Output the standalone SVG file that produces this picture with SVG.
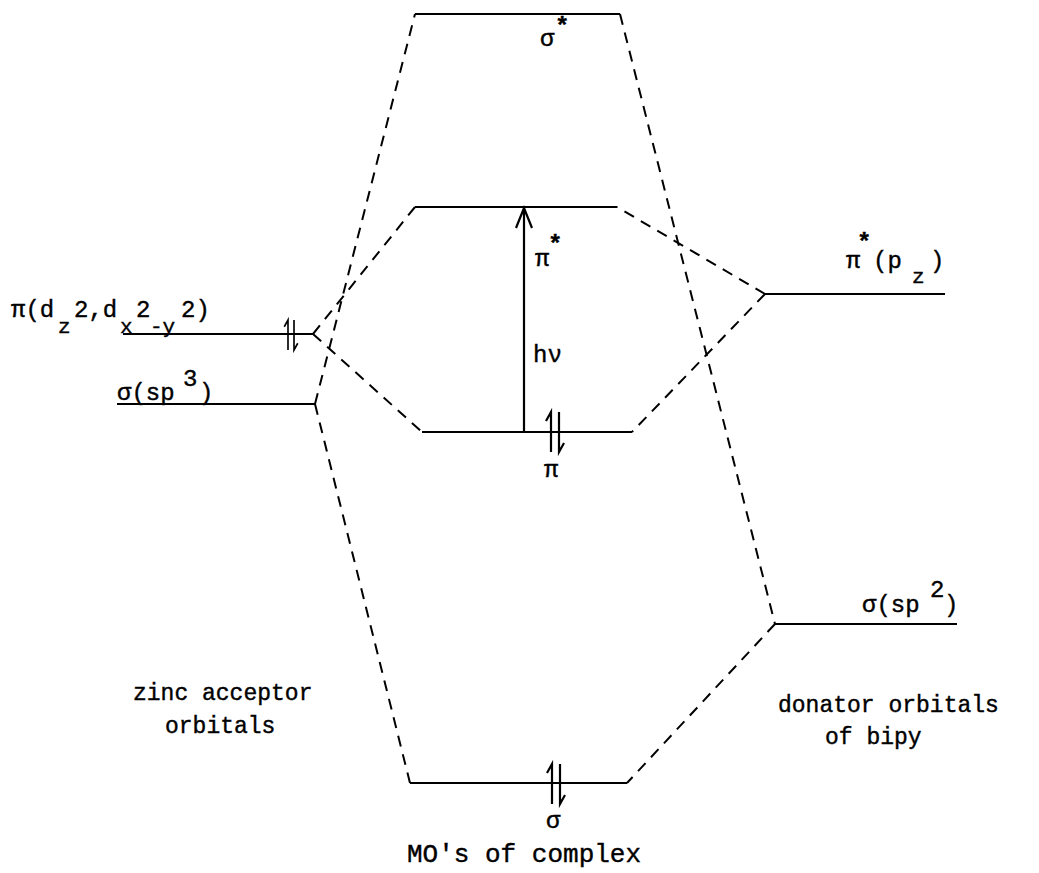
<svg xmlns="http://www.w3.org/2000/svg" width="1039" height="873" viewBox="0 0 1039 873">
<style>
.lvl{stroke:#000;stroke-width:2.2;fill:none}
.dash{stroke:#000;stroke-width:2;fill:none;stroke-dasharray:11 8}
.e{stroke:#000;stroke-width:2.2;fill:none}
text{font-family:"Liberation Mono","Courier New",monospace;font-size:24px;fill:#000;stroke:#000;stroke-width:0.4}
.sub{font-size:21px}
.cap{font-size:23px}
.star{font-size:24px;font-weight:bold}
</style>
<defs>
<path id="pair" d="M-4,20 V-20 L-9,-11 M4,-20 V20 L9,11" class="e"/>
</defs>
<rect width="1039" height="873" fill="#fff"/>
<g id="connectors">
<path class="dash" d="M315,404 L415,14"/>
<path class="dash" d="M315,404 L410,783"/>
<path class="dash" d="M620,14 L775,624"/>
<path class="dash" d="M313,334 L415,207"/>
<path class="dash" d="M313,334 L422,432"/>
<path class="dash" d="M765,294 L617,207"/>
<path class="dash" d="M765,294 L632,432"/>
<path class="dash" d="M775,624 L627,783"/>
</g>
<g id="transition">
<path class="e" d="M524,432 V208 M516,228 L524,208 L532,228"/>
<text x="533" y="362">hν</text>
</g>
<g id="sigma-star">
<path class="lvl" d="M415,14 H620"/>
<text x="540" y="46">σ</text><text x="555" y="34" class="star">*</text>
</g>
<g id="pi-star">
<path class="lvl" d="M415,207 H617"/>
<text x="535" y="266">π</text><text x="548" y="252" class="star">*</text>
</g>
<g id="pi">
<path class="lvl" d="M422,432 H632"/>
<use href="#pair" x="555" y="432"/>
<text x="544" y="477">π</text>
</g>
<g id="sigma">
<path class="lvl" d="M410,783 H627"/>
<use href="#pair" x="556" y="784"/>
<text x="546" y="828">σ</text>
<text x="407" y="862" style="font-size:26px">MO's of complex</text>
</g>
<g id="zinc-pi">
<path class="lvl" d="M123,334 H313"/>
<use href="#pair" x="291" y="335" transform="translate(291 335) scale(0.75) translate(-291 -335)"/>
<text x="11" y="317">π(d</text>
<text x="58" y="333" class="sub">z</text>
<text x="74" y="317">2,d</text>
<text x="120" y="333" class="sub">x</text>
<text x="136" y="317">2</text>
<text x="150" y="333" class="sub">-y</text>
<text x="181" y="317">2)</text>
</g>
<g id="zinc-sigma">
<path class="lvl" d="M117,404 H315"/>
<text x="117" y="400">σ(sp</text>
<text x="183" y="386">3</text>
<text x="199" y="400">)</text>
</g>
<g id="zinc-label">
<text x="133" y="700" class="cap">zinc acceptor</text>
<text x="165" y="733" class="cap">orbitals</text>
</g>
<g id="bipy-pi-star">
<path class="lvl" d="M765,294 H945"/>
<text x="846" y="268">π</text>
<text x="857" y="250" class="star">*</text>
<text x="873" y="268">(p</text>
<text x="912" y="283" class="sub">z</text>
<text x="930" y="268">)</text>
</g>
<g id="bipy-sigma">
<path class="lvl" d="M775,624 H957"/>
<text x="862" y="612">σ(sp</text>
<text x="930" y="597">2</text>
<text x="944" y="612">)</text>
</g>
<g id="bipy-label">
<text x="778" y="712" class="cap">donator orbitals</text>
<text x="825" y="744" class="cap">of bipy</text>
</g>
</svg>
